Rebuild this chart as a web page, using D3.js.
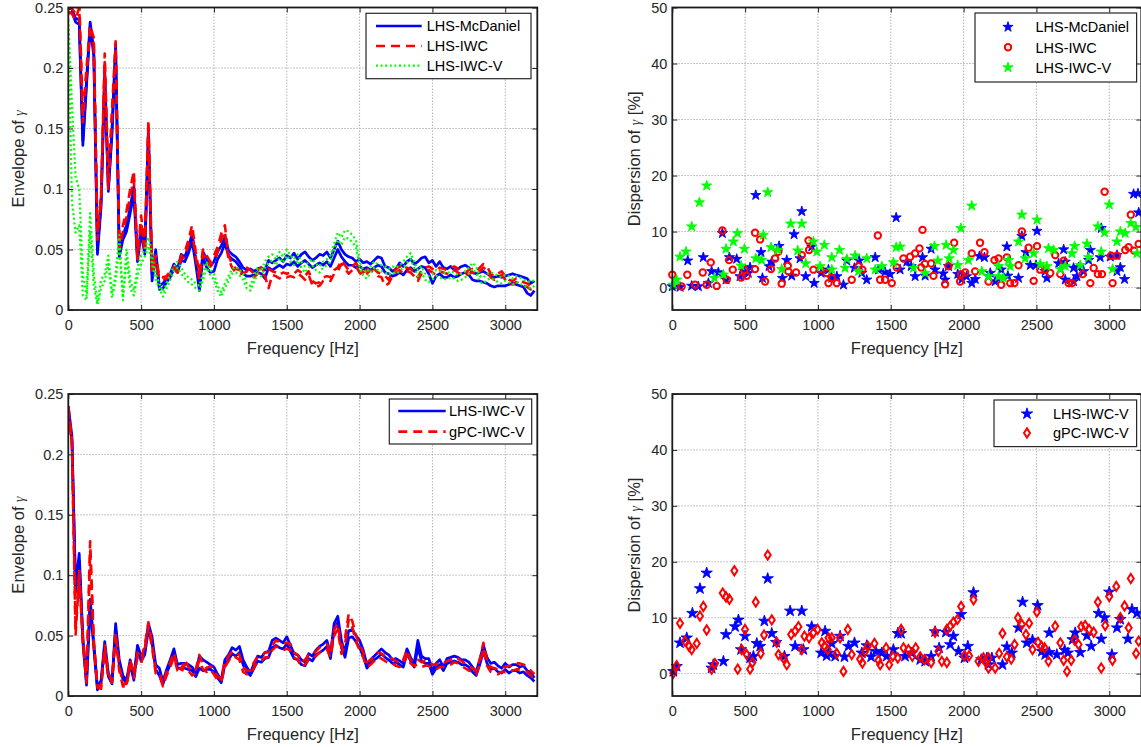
<!DOCTYPE html>
<html>
<head>
<meta charset="utf-8">
<script src="https://cdn.jsdelivr.net/npm/d3@7"></script>
<style>
  body { margin: 0; background: #fff; }
  svg text { font-family: "Liberation Sans", Arial, Helvetica, sans-serif; }
</style>
</head>
<body>
<svg id="fig" width="1141" height="747"></svg>
<script>
// ---------- axes data ----------
const freqHz = d3.range(0, 3201, 25);          // frequency grid of the envelope curves [Hz]
const freqTicks = [0, 500, 1000, 1500, 2000, 2500, 3000];
const envTicks = [0, 0.05, 0.1, 0.15, 0.2, 0.25];
const dispTicks = [0, 10, 20, 30, 40, 50];
const freqMax = 3220;

// ---------- envelope of gamma, upper / lower bounds (25 Hz grid) ----------
const envMcDanielUp = [
  0.249,0.249,0.241,0.240,0.140,0.190,0.238,0.215,
  0.050,0.090,0.198,0.100,0.150,0.220,0.047,0.062,
  0.070,0.085,0.102,0.043,0.069,0.050,0.150,0.030,
  0.050,0.020,0.022,0.026,0.030,0.038,0.034,0.046,
  0.044,0.052,0.063,0.042,0.020,0.048,0.042,0.036,
  0.040,0.048,0.053,0.060,0.049,0.046,0.044,0.040,
  0.035,0.033,0.034,0.032,0.034,0.035,0.033,0.041,
  0.039,0.041,0.043,0.040,0.045,0.043,0.047,0.042,
  0.046,0.048,0.044,0.041,0.043,0.046,0.045,0.048,
  0.043,0.050,0.057,0.050,0.046,0.044,0.043,0.040,
  0.042,0.039,0.040,0.038,0.041,0.044,0.043,0.036,
  0.035,0.032,0.034,0.039,0.036,0.040,0.042,0.038,
  0.040,0.043,0.044,0.039,0.041,0.036,0.040,0.035,
  0.034,0.036,0.033,0.034,0.036,0.037,0.035,0.031,
  0.030,0.031,0.032,0.030,0.028,0.027,0.028,0.027,
  0.028,0.029,0.030,0.029,0.028,0.027,0.026,0.022,
  0.024];
const envMcDanielLo = [
  0.245,0.246,0.238,0.236,0.136,0.185,0.234,0.210,
  0.046,0.085,0.192,0.098,0.145,0.214,0.044,0.058,
  0.065,0.080,0.096,0.040,0.064,0.046,0.142,0.024,
  0.045,0.017,0.018,0.023,0.027,0.034,0.031,0.041,
  0.040,0.047,0.057,0.038,0.016,0.044,0.035,0.031,
  0.032,0.042,0.047,0.055,0.045,0.042,0.040,0.036,
  0.030,0.028,0.028,0.029,0.031,0.030,0.026,0.035,
  0.033,0.035,0.037,0.035,0.038,0.037,0.040,0.036,
  0.039,0.041,0.038,0.035,0.037,0.039,0.037,0.040,
  0.036,0.043,0.050,0.044,0.040,0.037,0.037,0.035,
  0.036,0.034,0.035,0.033,0.035,0.037,0.036,0.031,
  0.030,0.028,0.029,0.031,0.029,0.033,0.035,0.032,
  0.034,0.036,0.035,0.030,0.022,0.028,0.030,0.027,
  0.027,0.029,0.027,0.028,0.030,0.031,0.029,0.025,
  0.024,0.024,0.023,0.022,0.020,0.019,0.020,0.020,
  0.020,0.021,0.022,0.021,0.020,0.019,0.014,0.012,
  0.016];
const envIwcUp = [
  0.250,0.249,0.245,0.258,0.160,0.200,0.235,0.225,
  0.065,0.095,0.212,0.105,0.165,0.222,0.055,0.070,
  0.082,0.100,0.115,0.045,0.078,0.052,0.157,0.035,
  0.045,0.028,0.027,0.028,0.032,0.036,0.033,0.045,
  0.048,0.058,0.070,0.048,0.030,0.050,0.045,0.040,
  0.045,0.052,0.063,0.070,0.045,0.038,0.034,0.033,
  0.032,0.035,0.033,0.030,0.033,0.035,0.031,0.034,
  0.032,0.031,0.029,0.031,0.030,0.031,0.030,0.033,
  0.031,0.028,0.032,0.024,0.022,0.023,0.027,0.028,
  0.027,0.033,0.035,0.041,0.037,0.033,0.036,0.039,
  0.034,0.031,0.033,0.036,0.034,0.031,0.030,0.028,
  0.025,0.031,0.034,0.036,0.033,0.035,0.034,0.031,
  0.027,0.033,0.035,0.036,0.034,0.032,0.035,0.034,
  0.033,0.035,0.036,0.034,0.032,0.031,0.033,0.034,
  0.032,0.035,0.038,0.036,0.030,0.028,0.030,0.032,
  0.028,0.025,0.024,0.026,0.025,0.023,0.022,0.020,
  0.021];
const envIwcLo = [
  0.246,0.245,0.240,0.250,0.155,0.195,0.230,0.220,
  0.058,0.090,0.205,0.100,0.160,0.216,0.050,0.065,
  0.077,0.095,0.108,0.042,0.072,0.048,0.150,0.030,
  0.040,0.026,0.025,0.026,0.030,0.034,0.031,0.042,
  0.044,0.054,0.065,0.044,0.025,0.046,0.041,0.036,
  0.041,0.048,0.058,0.065,0.042,0.035,0.031,0.030,
  0.030,0.032,0.030,0.027,0.030,0.032,0.028,0.018,
  0.029,0.028,0.026,0.028,0.027,0.028,0.027,0.030,
  0.028,0.025,0.029,0.021,0.019,0.020,0.024,0.025,
  0.024,0.030,0.032,0.038,0.034,0.030,0.033,0.036,
  0.031,0.028,0.030,0.033,0.031,0.028,0.027,0.020,
  0.022,0.028,0.031,0.033,0.030,0.032,0.031,0.028,
  0.024,0.030,0.032,0.033,0.031,0.029,0.032,0.031,
  0.030,0.032,0.033,0.031,0.029,0.028,0.030,0.031,
  0.029,0.032,0.035,0.033,0.027,0.025,0.027,0.029,
  0.025,0.022,0.021,0.023,0.022,0.020,0.019,0.017,
  0.018];
const envIwcVUp = [
  0.240,0.170,0.110,0.100,0.030,0.012,0.080,0.030,
  0.006,0.025,0.030,0.045,0.014,0.030,0.062,0.012,
  0.050,0.025,0.016,0.035,0.045,0.050,0.060,0.045,
  0.030,0.022,0.015,0.022,0.030,0.036,0.040,0.035,
  0.030,0.027,0.025,0.022,0.020,0.030,0.040,0.033,
  0.030,0.020,0.015,0.022,0.028,0.034,0.036,0.033,
  0.030,0.022,0.020,0.028,0.035,0.032,0.040,0.044,
  0.046,0.042,0.048,0.044,0.050,0.045,0.042,0.046,
  0.040,0.036,0.040,0.042,0.038,0.036,0.040,0.042,
  0.045,0.055,0.064,0.060,0.066,0.065,0.062,0.058,
  0.040,0.033,0.031,0.036,0.040,0.038,0.037,0.036,
  0.034,0.036,0.035,0.037,0.040,0.044,0.047,0.040,
  0.033,0.036,0.030,0.028,0.030,0.033,0.032,0.031,
  0.030,0.032,0.031,0.029,0.030,0.032,0.035,0.039,
  0.036,0.028,0.027,0.030,0.031,0.030,0.028,0.027,
  0.029,0.028,0.026,0.028,0.027,0.025,0.024,0.023,
  0.025];
const envIwcVLo = [
  0.232,0.090,0.064,0.070,0.012,0.008,0.065,0.020,
  0.004,0.018,0.024,0.038,0.010,0.024,0.052,0.008,
  0.042,0.018,0.012,0.028,0.038,0.044,0.053,0.038,
  0.025,0.018,0.011,0.018,0.025,0.032,0.035,0.030,
  0.026,0.023,0.021,0.018,0.016,0.025,0.035,0.029,
  0.025,0.016,0.011,0.018,0.024,0.030,0.031,0.029,
  0.025,0.018,0.016,0.023,0.030,0.028,0.035,0.039,
  0.041,0.037,0.043,0.039,0.045,0.040,0.037,0.041,
  0.035,0.031,0.035,0.037,0.033,0.031,0.035,0.037,
  0.040,0.050,0.058,0.054,0.060,0.059,0.056,0.052,
  0.035,0.028,0.026,0.031,0.035,0.033,0.032,0.031,
  0.029,0.031,0.030,0.032,0.035,0.039,0.042,0.035,
  0.028,0.031,0.025,0.023,0.025,0.028,0.027,0.026,
  0.025,0.027,0.026,0.024,0.025,0.027,0.030,0.034,
  0.031,0.023,0.022,0.025,0.026,0.025,0.023,0.022,
  0.024,0.023,0.021,0.023,0.022,0.020,0.019,0.018,
  0.020];

const envLhsVUp = [
  0.240,0.215,0.092,0.118,0.049,0.011,0.080,0.044,
  0.007,0.013,0.045,0.019,0.012,0.060,0.030,0.017,
  0.013,0.030,0.016,0.042,0.033,0.038,0.060,0.049,
  0.026,0.023,0.012,0.022,0.030,0.039,0.026,0.027,
  0.027,0.026,0.024,0.019,0.033,0.030,0.028,0.026,
  0.024,0.018,0.013,0.030,0.034,0.040,0.038,0.041,
  0.030,0.024,0.019,0.027,0.033,0.032,0.036,0.037,
  0.046,0.048,0.046,0.044,0.049,0.042,0.035,0.034,
  0.030,0.028,0.035,0.033,0.038,0.041,0.043,0.046,
  0.035,0.060,0.066,0.046,0.036,0.054,0.055,0.050,
  0.046,0.038,0.026,0.030,0.033,0.036,0.039,0.036,
  0.034,0.030,0.031,0.029,0.027,0.039,0.032,0.027,
  0.046,0.033,0.031,0.031,0.021,0.027,0.030,0.024,
  0.031,0.032,0.033,0.032,0.030,0.030,0.028,0.024,
  0.020,0.030,0.042,0.032,0.027,0.028,0.025,0.023,
  0.027,0.024,0.026,0.026,0.024,0.025,0.021,0.019,
  0.015];
const envLhsVLo = [
  0.236,0.211,0.086,0.112,0.045,0.009,0.075,0.040,
  0.005,0.011,0.041,0.016,0.010,0.055,0.026,0.014,
  0.011,0.026,0.013,0.038,0.029,0.034,0.055,0.044,
  0.022,0.017,0.010,0.019,0.026,0.035,0.023,0.023,
  0.023,0.022,0.021,0.016,0.023,0.021,0.022,0.022,
  0.020,0.015,0.011,0.026,0.030,0.035,0.033,0.036,
  0.026,0.020,0.017,0.023,0.029,0.028,0.031,0.032,
  0.040,0.042,0.040,0.039,0.043,0.037,0.031,0.030,
  0.026,0.025,0.031,0.029,0.034,0.036,0.038,0.041,
  0.031,0.055,0.061,0.040,0.032,0.048,0.049,0.045,
  0.040,0.033,0.023,0.027,0.030,0.032,0.035,0.032,
  0.030,0.027,0.028,0.026,0.024,0.035,0.029,0.024,
  0.040,0.029,0.027,0.027,0.018,0.023,0.026,0.021,
  0.027,0.028,0.029,0.028,0.026,0.026,0.024,0.020,
  0.017,0.026,0.037,0.027,0.022,0.023,0.020,0.019,
  0.022,0.019,0.021,0.021,0.019,0.020,0.017,0.015,
  0.012];
const envGpcVUp = [
  0.240,0.212,0.055,0.105,0.048,0.014,0.128,0.046,
  0.009,0.008,0.042,0.018,0.013,0.052,0.025,0.010,
  0.010,0.030,0.018,0.036,0.031,0.042,0.061,0.044,
  0.022,0.020,0.010,0.020,0.028,0.036,0.024,0.022,
  0.030,0.024,0.020,0.022,0.034,0.026,0.023,0.025,
  0.022,0.016,0.014,0.028,0.033,0.037,0.036,0.034,
  0.024,0.021,0.021,0.028,0.032,0.033,0.036,0.036,
  0.042,0.046,0.045,0.043,0.044,0.043,0.036,0.034,
  0.028,0.030,0.034,0.034,0.037,0.040,0.042,0.043,
  0.036,0.055,0.060,0.040,0.048,0.068,0.062,0.050,
  0.043,0.036,0.028,0.030,0.033,0.036,0.035,0.033,
  0.031,0.031,0.029,0.027,0.030,0.038,0.030,0.028,
  0.030,0.028,0.029,0.029,0.026,0.026,0.028,0.027,
  0.029,0.030,0.032,0.031,0.029,0.027,0.025,0.023,
  0.021,0.030,0.044,0.029,0.024,0.023,0.022,0.024,
  0.024,0.025,0.025,0.027,0.027,0.026,0.024,0.021,
  0.018];
const envGpcVLo = [
  0.236,0.208,0.050,0.100,0.044,0.011,0.120,0.041,
  0.007,0.006,0.038,0.015,0.011,0.048,0.021,0.008,
  0.008,0.026,0.015,0.032,0.027,0.038,0.057,0.040,
  0.019,0.017,0.008,0.017,0.024,0.032,0.021,0.019,
  0.026,0.021,0.017,0.019,0.030,0.022,0.020,0.022,
  0.018,0.013,0.012,0.024,0.029,0.033,0.032,0.030,
  0.020,0.018,0.018,0.024,0.028,0.029,0.032,0.032,
  0.038,0.041,0.040,0.038,0.039,0.038,0.032,0.030,
  0.024,0.026,0.030,0.030,0.033,0.036,0.038,0.039,
  0.032,0.050,0.055,0.035,0.043,0.063,0.057,0.045,
  0.038,0.032,0.024,0.026,0.029,0.032,0.031,0.029,
  0.027,0.027,0.025,0.024,0.026,0.034,0.027,0.025,
  0.026,0.024,0.025,0.025,0.023,0.022,0.024,0.024,
  0.025,0.026,0.028,0.027,0.025,0.023,0.021,0.020,
  0.018,0.026,0.040,0.025,0.020,0.019,0.018,0.020,
  0.020,0.021,0.021,0.022,0.022,0.021,0.020,0.017,
  0.014];

// ---------- dispersion of gamma [%], [frequency Hz, value] ----------
const dispMcDaniel = [[0,0.2],[53,0.1],[106,4.8],[133,0.3],[179,0.2],[213,5.4],[248,0.8],[270,2.9],[316,2.7],[344,9.7],[369,1.4],[392,5.4],[442,5.1],[465,2.0],[495,2.9],[522,2.6],[534,3.6],[573,16.5],[609,6.3],[619,1.7],[664,3.8],[683,4.6],[733,7.4],[756,1.7],[786,4.9],[820,2.1],[836,9.5],[877,5.2],[889,13.6],[916,2.0],[957,7.3],[974,0.8],[1022,2.6],[1072,3.2],[1095,1.7],[1130,2.0],[1175,0.5],[1198,4.8],[1250,3.5],[1283,4.8],[1301,2.6],[1335,1.4],[1393,5.4],[1416,3.2],[1460,2.8],[1495,2.4],[1537,12.5],[1564,3.2],[1610,4.6],[1640,3.8],[1667,2.0],[1718,5.4],[1736,2.1],[1777,6.9],[1804,3.2],[1860,2.5],[1873,1.4],[1896,3.8],[1960,2.4],[1988,1.5],[2020,2.0],[2056,0.8],[2080,1.5],[2109,5.6],[2143,5.4],[2171,2.0],[2183,2.6],[2217,1.1],[2258,3.2],[2297,7.3],[2304,2.1],[2377,1.7],[2400,9.2],[2428,6.3],[2458,4.0],[2497,4.0],[2504,10.1],[2560,2.9],[2572,1.7],[2652,4.3],[2687,6.8],[2698,4.6],[2698,1.4],[2755,3.5],[2755,1.1],[2778,2.0],[2789,3.6],[2824,2.9],[2858,4.9],[2870,6.7],[2938,5.4],[2945,10.6],[3007,5.5],[3053,5.8],[3053,2.9],[3076,3.6],[3105,1.5],[3167,16.7],[3197,16.8],[3202,13.4]];
const dispIwc = [[0,2.3],[64,0.2],[103,2.3],[156,0.5],[209,2.7],[236,0.5],[264,4.5],[305,0.3],[344,10.2],[374,1.4],[390,4.9],[415,3.2],[472,1.8],[495,3.2],[511,2.1],[568,9.8],[568,3.3],[603,8.6],[637,1.1],[678,3.3],[706,5.2],[728,6.4],[751,0.7],[793,3.9],[797,2.9],[850,2.7],[889,5.8],[935,8.4],[939,6.7],[969,3.2],[1015,3.3],[1060,2.6],[1072,0.8],[1095,1.7],[1129,0.8],[1232,1.4],[1278,3.8],[1305,3.2],[1411,9.3],[1427,1.4],[1461,1.4],[1507,0.8],[1541,3.6],[1587,5.2],[1633,5.5],[1667,6.1],[1697,7.0],[1709,3.6],[1718,10.3],[1734,4.2],[1777,4.3],[1793,2.1],[1873,0.6],[1896,3.8],[1935,8.0],[1976,1.1],[1983,2.4],[2011,2.7],[2056,6.1],[2079,2.9],[2113,8.0],[2143,6.3],[2171,1.1],[2212,4.9],[2240,5.2],[2258,0.5],[2297,5.4],[2320,0.8],[2349,0.8],[2377,4.0],[2400,10.0],[2446,7.1],[2481,1.2],[2504,7.4],[2526,3.2],[2560,3.2],[2595,2.6],[2629,5.8],[2664,2.4],[2687,4.8],[2721,0.8],[2744,0.8],[2817,2.4],[2870,0.8],[2893,3.5],[2922,2.4],[2950,2.4],[2968,17.1],[3012,5.7],[3023,0.8],[3053,5.7],[3110,6.7],[3133,7.2],[3148,13.0],[3171,6.6],[3202,7.8]];
const dispIwcV = [[7,0.5],[30,1.4],[53,5.5],[94,6.4],[133,10.9],[186,15.2],[236,18.2],[289,1.7],[351,2.3],[369,6.9],[419,8.2],[447,9.7],[472,3.9],[495,6.9],[573,5.2],[614,4.9],[625,9.4],[655,17.0],[678,7.2],[724,6.7],[751,3.3],[813,11.4],[861,6.6],[889,11.4],[916,4.3],[969,8.2],[992,6.4],[1015,3.8],[1044,7.6],[1095,5.4],[1095,3.2],[1148,6.7],[1186,3.5],[1198,5.1],[1255,5.7],[1278,2.9],[1335,5.2],[1393,3.2],[1438,3.8],[1518,4.5],[1537,7.2],[1564,7.3],[1656,3.5],[1736,2.6],[1800,7.4],[1823,4.8],[1880,7.6],[1901,5.2],[1930,6.7],[1960,4.0],[1981,10.6],[2033,4.9],[2056,14.6],[2125,2.9],[2171,2.0],[2240,3.8],[2240,2.0],[2274,1.7],[2308,4.9],[2320,3.8],[2377,8.2],[2400,13.0],[2423,5.2],[2481,6.1],[2504,12.1],[2526,4.2],[2572,3.8],[2583,7.0],[2618,6.7],[2664,3.3],[2698,3.8],[2744,6.1],[2762,7.4],[2801,4.0],[2847,7.8],[2858,5.4],[2922,10.9],[2945,6.4],[2968,9.8],[3000,14.8],[3023,3.3],[3053,8.2],[3076,10.0],[3110,9.7],[3148,11.5],[3183,10.8],[3190,6.1]];

const dispLhsV = [[7,0.4],[30,1.3],[53,5.5],[99,6.4],[138,10.8],[190,15.2],[236,18.0],[270,1.0],[282,1.6],[351,2.2],[369,7.0],[431,8.4],[454,9.6],[472,4.3],[499,6.7],[534,2.8],[557,3.1],[580,5.4],[603,4.9],[632,9.4],[655,17.0],[683,7.2],[713,5.6],[770,3.1],[809,11.2],[843,4.9],[889,11.2],[900,4.3],[957,8.4],[1022,3.7],[1049,7.6],[1060,3.2],[1072,3.7],[1095,5.4],[1118,3.1],[1152,6.7],[1182,3.0],[1209,4.9],[1251,5.5],[1301,3.7],[1335,5.0],[1365,3.0],[1397,4.0],[1438,3.7],[1472,3.1],[1518,4.3],[1548,7.2],[1571,7.2],[1598,3.1],[1644,3.7],[1702,2.5],[1736,2.2],[1777,3.1],[1804,7.5],[1832,4.6],[1878,7.4],[1908,5.2],[1930,6.7],[1965,4.0],[1983,10.6],[2006,2.8],[2029,4.9],[2068,14.5],[2121,2.5],[2160,2.8],[2171,1.6],[2194,2.8],[2267,1.6],[2297,4.8],[2331,3.7],[2377,8.2],[2405,12.8],[2434,5.5],[2473,6.0],[2508,12.2],[2537,4.0],[2560,3.4],[2588,7.3],[2588,3.8],[2640,3.4],[2694,4.2],[2716,3.7],[2748,6.1],[2766,7.3],[2801,3.8],[2847,6.8],[2876,4.9],[2927,10.8],[2945,6.2],[2968,10.0],[3000,14.6],[3018,3.4],[3053,8.2],[3076,9.7],[3128,6.2],[3156,11.5],[3190,10.8]];
const dispGpcV = [[7,0.1],[30,1.4],[53,9.0],[87,5.8],[115,4.9],[133,4.3],[168,5.4],[190,10.3],[213,12.0],[236,7.8],[270,0.8],[293,1.8],[346,14.4],[369,13.7],[392,13.3],[426,18.4],[449,0.8],[476,4.3],[499,7.9],[511,3.4],[534,0.8],[550,2.0],[573,12.8],[607,3.6],[630,6.9],[655,21.2],[683,9.6],[717,5.6],[729,3.4],[763,2.8],[786,1.6],[816,7.0],[843,7.6],[866,8.4],[889,4.3],[907,6.7],[939,6.4],[969,7.3],[998,7.9],[1026,5.5],[1045,4.9],[1067,4.3],[1072,6.4],[1095,6.4],[1129,3.6],[1152,6.4],[1175,0.4],[1205,7.9],[1232,3.4],[1289,2.6],[1305,1.9],[1324,4.0],[1342,4.9],[1388,5.4],[1415,2.4],[1427,1.6],[1468,4.6],[1489,1.6],[1514,3.1],[1548,2.8],[1571,7.9],[1587,4.6],[1621,4.3],[1648,3.1],[1671,4.6],[1702,3.0],[1732,2.5],[1777,2.0],[1804,7.4],[1827,4.0],[1850,2.2],[1885,7.9],[1885,2.0],[1908,8.5],[1930,9.2],[1958,9.7],[1983,12.0],[2006,3.2],[2038,3.2],[2068,13.2],[2102,2.2],[2136,2.8],[2148,2.2],[2171,1.0],[2171,2.8],[2217,1.0],[2244,3.6],[2267,7.2],[2297,3.0],[2327,2.6],[2350,5.2],[2373,10.0],[2400,8.8],[2428,7.0],[2450,9.0],[2473,4.3],[2503,11.0],[2511,5.6],[2534,4.9],[2556,4.6],[2583,2.2],[2629,8.5],[2664,5.5],[2687,2.4],[2710,0.4],[2739,2.4],[2762,6.0],[2789,5.2],[2807,8.4],[2835,8.6],[2862,7.9],[2893,7.4],[2922,12.8],[2945,1.0],[2972,8.6],[3000,13.8],[3022,2.4],[3048,15.6],[3076,10.0],[3105,12.1],[3133,8.2],[3148,17.0],[3184,3.6],[3202,5.8]];

// ---------- drawing ----------
const BLUE = '#0000ff', RED = '#ff0000', GREEN = '#00ff00', INK = '#262626';
const svg = d3.select('#fig');
const defs = svg.append('defs');
let clipCount = 0;

function makePanel(box, yDomain, yTicks) {
  const x = d3.scaleLinear().domain([0, freqMax]).range([box.left, box.right]);
  const y = d3.scaleLinear().domain(yDomain).range([box.bottom, box.top]);
  const g = svg.append('g');
  const id = 'plotclip' + (clipCount++);
  defs.append('clipPath').attr('id', id).append('rect')
    .attr('x', box.left).attr('y', box.top)
    .attr('width', box.right - box.left).attr('height', box.bottom - box.top);

  const grid = g.append('g').attr('stroke', '#b4b4b4').attr('stroke-width', 1)
    .attr('stroke-dasharray', '1.5,1.5');
  freqTicks.filter(t => x(t) > box.left + 1 && x(t) < box.right - 1).forEach(t =>
    grid.append('line').attr('x1', x(t)).attr('x2', x(t)).attr('y1', box.top).attr('y2', box.bottom));
  yTicks.filter(t => y(t) > box.top + 1 && y(t) < box.bottom - 1).forEach(t =>
    grid.append('line').attr('x1', box.left).attr('x2', box.right).attr('y1', y(t)).attr('y2', y(t)));

  const plot = g.append('g').attr('clip-path', `url(#${id})`);
  return { box, x, y, g, plot };
}

function styleAxis(sel) {
  sel.select('.domain').remove();
  sel.selectAll('line').attr('stroke', INK).attr('stroke-width', 1);
  sel.selectAll('text').attr('fill', INK).attr('font-size', 14.5)
    .attr('font-family', '"Liberation Sans", Arial, sans-serif');
}

function finishAxes(p, yTicks, yFmt) {
  const { g, x, y, box } = p;
  g.append('g').attr('transform', `translate(0,${box.bottom})`)
    .call(d3.axisBottom(x).tickValues(freqTicks).tickSize(-5).tickPadding(10).tickFormat(d3.format('d')))
    .call(styleAxis);
  g.append('g').attr('transform', `translate(0,${box.top})`)
    .call(d3.axisTop(x).tickValues(freqTicks).tickSize(-5).tickFormat(''))
    .call(styleAxis);
  g.append('g').attr('transform', `translate(${box.left},0)`)
    .call(d3.axisLeft(y).tickValues(yTicks).tickSize(-5).tickPadding(5).tickFormat(yFmt))
    .call(styleAxis);
  g.append('g').attr('transform', `translate(${box.right},0)`)
    .call(d3.axisRight(y).tickValues(yTicks).tickSize(-5).tickFormat(''))
    .call(styleAxis);
  g.append('rect').attr('x', box.left).attr('y', box.top)
    .attr('width', box.right - box.left).attr('height', box.bottom - box.top)
    .attr('fill', 'none').attr('stroke', '#1a1a1a').attr('stroke-width', 1.8);

  // axis title below
  svg.append('text').attr('x', (box.left + box.right) / 2).attr('y', box.bottom + 44)
    .attr('text-anchor', 'middle').attr('font-size', 16.5).attr('fill', INK).text('Frequency [Hz]');
}

function yTitle(p, xPos, before, after) {
  const t = svg.append('text')
    .attr('transform', `translate(${xPos},${(p.box.top + p.box.bottom) / 2}) rotate(-90)`)
    .attr('text-anchor', 'middle').attr('font-size', 16.5).attr('fill', INK);
  t.append('tspan').text(before);
  t.append('tspan').attr('font-family', '"Liberation Serif", "DejaVu Serif", serif')
    .attr('font-style', 'italic').attr('font-size', 14).text('γ');
  if (after) t.append('tspan').text(after);
}

function envLine(p, values, color, width, dash) {
  const line = d3.line().x((d, i) => p.x(freqHz[i])).y(d => p.y(d));
  p.plot.append('path').datum(values).attr('d', line)
    .attr('fill', 'none').attr('stroke', color).attr('stroke-width', width)
    .attr('stroke-linejoin', 'round')
    .attr('stroke-dasharray', dash || null);
}

const starShape = s => d3.symbol(d3.symbolStar, s)();
const diamondShape = 'M0,-4.6L3,0L0,4.6L-3,0Z';
const CIRCLE_R = 3.2;

function stars(p, pts, color, size) {
  p.g.append('g').selectAll('path').data(pts).join('path')
    .attr('d', starShape(size))
    .attr('transform', d => `translate(${p.x(d[0])},${p.y(d[1])})`)
    .attr('fill', color).attr('stroke', color).attr('stroke-width', 0.9);
}
function circles(p, pts, color) {
  p.g.append('g').selectAll('circle').data(pts).join('circle')
    .attr('cx', d => p.x(d[0])).attr('cy', d => p.y(d[1])).attr('r', CIRCLE_R)
    .attr('fill', 'none').attr('stroke', color).attr('stroke-width', 2);
}
function diamonds(p, pts, color) {
  p.g.append('g').selectAll('path').data(pts).join('path')
    .attr('d', diamondShape)
    .attr('transform', d => `translate(${p.x(d[0])},${p.y(d[1])})`)
    .attr('fill', 'none').attr('stroke', color).attr('stroke-width', 2);
}

function legendBox(x, y, w, h) {
  svg.append('rect').attr('x', x).attr('y', y).attr('width', w).attr('height', h)
    .attr('fill', '#fff').attr('stroke', INK).attr('stroke-width', 1.2);
}
function legendText(x, y, label) {
  svg.append('text').attr('x', x).attr('y', y).attr('dy', '0.36em')
    .attr('font-size', 14.5).attr('fill', '#000').text(label);
}

const DASH = '9,6', DOT = '2,2.6';
const envFmt = d3.format('~g');
const STAR_TOP = 32, STAR_BOTTOM = 40;

// --- top left: envelopes ---
const pA = makePanel({ left: 68.3, right: 537.3, top: 7.5, bottom: 310 }, [0, 0.25], envTicks);
envLine(pA, envMcDanielUp, BLUE, 2.7);
envLine(pA, envMcDanielLo, BLUE, 2.7);
envLine(pA, envIwcUp, RED, 2.6, DASH);
envLine(pA, envIwcLo, RED, 2.6, DASH);
envLine(pA, envIwcVUp, GREEN, 2.2, DOT);
envLine(pA, envIwcVLo, GREEN, 2.2, DOT);
finishAxes(pA, envTicks, envFmt);
yTitle(pA, 24, 'Envelope of ');
legendBox(366, 13.3, 165, 65.4);
[[26, BLUE, null, 'LHS-McDaniel'], [46, RED, DASH, 'LHS-IWC'], [65.7, GREEN, DOT, 'LHS-IWC-V']].forEach(([yy, c, d, lab]) => {
  svg.append('line').attr('x1', 376).attr('x2', 421.7).attr('y1', yy).attr('y2', yy)
    .attr('stroke', c).attr('stroke-width', c === GREEN ? 2.2 : 2.7).attr('stroke-dasharray', d);
  legendText(426.7, yy, lab);
});

// --- top right: dispersion ---
const pB = makePanel({ left: 672.3, right: 1141.3, top: 7.5, bottom: 310 }, [-4, 50], dispTicks);
stars(pB, dispMcDaniel, BLUE, STAR_TOP);
circles(pB, dispIwc, RED);
stars(pB, dispIwcV, GREEN, STAR_TOP);
finishAxes(pB, dispTicks, d3.format('d'));
yTitle(pB, 640, 'Dispersion of ', ' [%]');
legendBox(975, 13, 161.6, 69);
svg.append('path').attr('d', starShape(STAR_TOP)).attr('transform', 'translate(1008,27)').attr('fill', BLUE).attr('stroke', BLUE).attr('stroke-width', 0.9);
legendText(1035.5, 27, 'LHS-McDaniel');
svg.append('circle').attr('cx', 1008).attr('cy', 47.3).attr('r', CIRCLE_R).attr('fill', 'none').attr('stroke', RED).attr('stroke-width', 2);
legendText(1035.5, 47.3, 'LHS-IWC');
svg.append('path').attr('d', starShape(STAR_TOP)).attr('transform', 'translate(1008,67.5)').attr('fill', GREEN).attr('stroke', GREEN).attr('stroke-width', 0.9);
legendText(1035.5, 67.5, 'LHS-IWC-V');

// --- bottom left: envelopes, LHS vs gPC ---
const pC = makePanel({ left: 68.3, right: 537.3, top: 394, bottom: 696 }, [0, 0.25], envTicks);
envLine(pC, envLhsVUp, BLUE, 2.7);
envLine(pC, envLhsVLo, BLUE, 2.7);
envLine(pC, envGpcVUp, RED, 2.6, DASH);
envLine(pC, envGpcVLo, RED, 2.6, DASH);
finishAxes(pC, envTicks, envFmt);
yTitle(pC, 24, 'Envelope of ');
legendBox(389.3, 399, 142.4, 45);
[[411, BLUE, null, 'LHS-IWC-V'], [431.7, RED, DASH, 'gPC-IWC-V']].forEach(([yy, c, d, lab]) => {
  svg.append('line').attr('x1', 398.3).attr('x2', 445.7).attr('y1', yy).attr('y2', yy)
    .attr('stroke', c).attr('stroke-width', 2.7).attr('stroke-dasharray', d);
  legendText(449, yy, lab);
});

// --- bottom right: dispersion, LHS vs gPC ---
const pD = makePanel({ left: 672.3, right: 1141.3, top: 394, bottom: 696 }, [-4, 50], dispTicks);
stars(pD, dispLhsV, BLUE, STAR_BOTTOM);
diamonds(pD, dispGpcV, RED);
finishAxes(pD, dispTicks, d3.format('d'));
yTitle(pD, 640, 'Dispersion of ', ' [%]');
legendBox(994, 400, 142.6, 46.6);
svg.append('path').attr('d', starShape(STAR_BOTTOM)).attr('transform', 'translate(1027,413.8)').attr('fill', BLUE).attr('stroke', BLUE).attr('stroke-width', 0.9);
legendText(1053, 413.8, 'LHS-IWC-V');
svg.append('path').attr('d', diamondShape).attr('transform', 'translate(1027,433)').attr('fill', 'none').attr('stroke', RED).attr('stroke-width', 2);
legendText(1053, 433, 'gPC-IWC-V');
</script>
</body>
</html>
